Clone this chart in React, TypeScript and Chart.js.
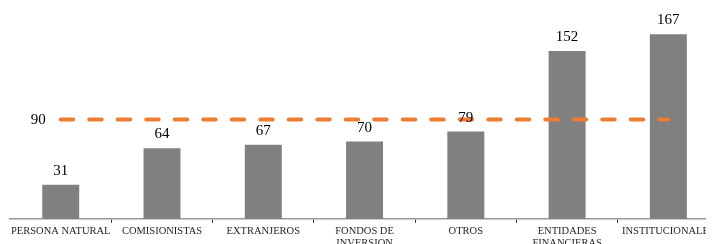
import React, { useEffect, useRef } from "react";
import { Chart, registerables } from "chart.js";

Chart.register(...registerables);

const categories: (string | string[])[] = [
  "PERSONA NATURAL",
  "COMISIONISTAS",
  "EXTRANJEROS",
  ["FONDOS DE", "INVERSION"],
  "OTROS",
  ["ENTIDADES", "FINANCIERAS"],
  "INSTITUCIONALES",
];
const barValues = [31, 64, 67, 70, 79, 152, 167];
const referenceValue = 90;
const referenceLine = categories.map(() => referenceValue);

const FONT = "'Liberation Serif', 'Times New Roman', serif";

const labelPlugin = {
  id: "valueLabels",
  afterDatasetsDraw(chart: any) {
    const ctx = chart.ctx;
    const meta = chart.getDatasetMeta(0);
    ctx.save();
    ctx.fillStyle = "#000";
    ctx.font = `15px ${FONT}`;
    ctx.textAlign = "center";
    ctx.textBaseline = "alphabetic";
    meta.data.forEach((el: any, i: number) => {
      ctx.fillText(String(barValues[i]), el.x, el.y - 10);
    });
    const xs = chart.scales.x;
    const ys = chart.scales.y;
    ctx.textAlign = "right";
    ctx.textBaseline = "middle";
    ctx.fillText(String(referenceValue), xs.getPixelForValue(0) - 15, ys.getPixelForValue(referenceValue) + 1);
    ctx.restore();
  },
};

export default function App() {
  const ref = useRef<HTMLCanvasElement | null>(null);
  useEffect(() => {
    if (!ref.current) return;
    const chart = new Chart(ref.current, {
      type: "bar",
      data: {
        labels: categories,
        datasets: [
          {
            type: "bar",
            data: barValues,
            backgroundColor: "#808080",
            borderWidth: 0,
            barPercentage: 0.365,
            categoryPercentage: 1,
            order: 2,
          },
          {
            type: "line",
            data: referenceLine,
            borderColor: "#ED7D31",
            borderWidth: 4,
            borderDash: [12.5, 16],
            borderCapStyle: "round",
            pointRadius: 0,
            fill: false,
            order: 1,
          } as any,
        ],
      },
      options: {
        animation: false,
        responsive: false,
        maintainAspectRatio: false,
        layout: { padding: { top: 12, left: 0, right: 0, bottom: 0 } },
        plugins: { legend: { display: false }, tooltip: { enabled: false } },
        scales: {
          x: {
            offset: true,
            grid: {
              offset: true,
              drawOnChartArea: false,
              drawTicks: true,
              tickLength: 4,
              color: (c: any) => (c.index === 0 ? "rgba(0,0,0,0)" : "#333"),
            },
            border: { display: true, color: "#999", width: 1.5 },
            ticks: {
              autoSkip: false,
              maxRotation: 0,
              minRotation: 0,
              padding: 3,
              color: "#262626",
              font: { family: FONT, size: 10.5, lineHeight: 1.1 },
            },
          },
          y: { display: false, min: 0, max: 180 },
        },
      },
      plugins: [labelPlugin],
    });
    return () => chart.destroy();
  }, []);
  return (
    <div style={{ width: 706, height: 236, overflow: "hidden" }}>
      <canvas ref={ref} width={711} height={244} style={{ display: "block" }} />
    </div>
  );
}
